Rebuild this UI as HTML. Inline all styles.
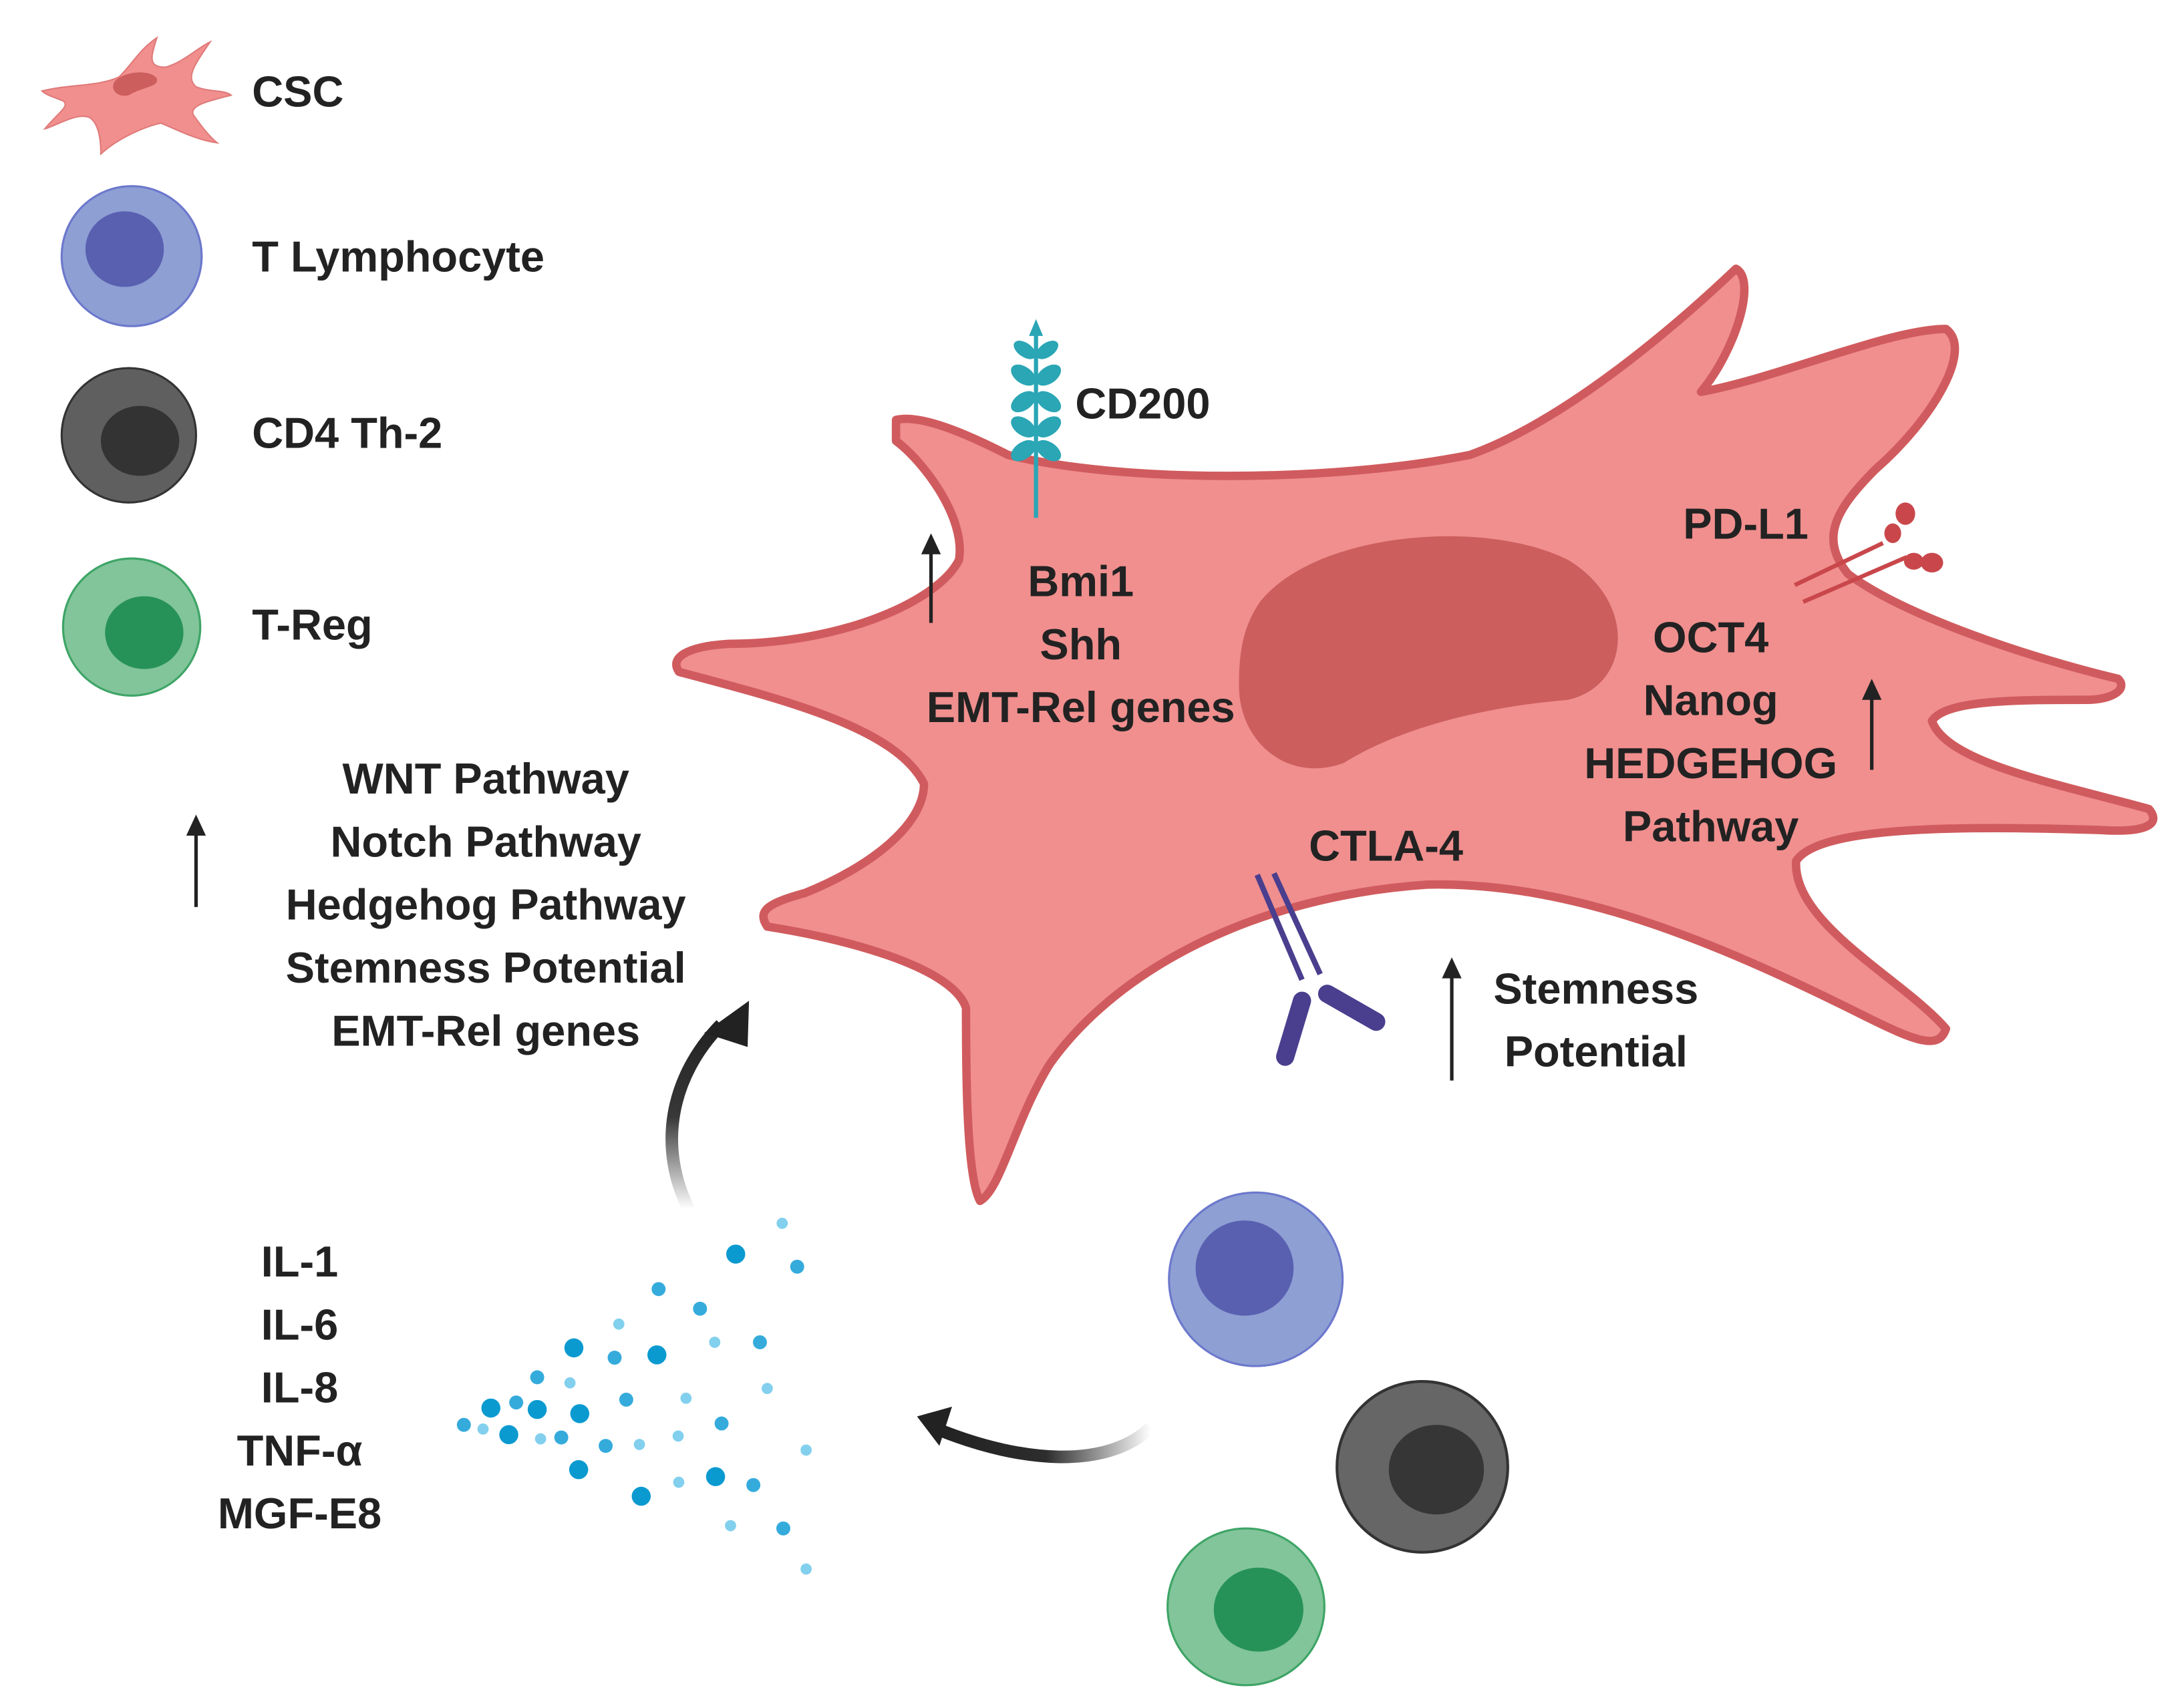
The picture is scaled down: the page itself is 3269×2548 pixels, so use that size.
<!DOCTYPE html>
<html><head><meta charset="utf-8"><style>
html,body{margin:0;padding:0;background:#fff;}
svg{display:block;}
text{font-family:"Liberation Sans",sans-serif;font-weight:bold;fill:#222;font-size:31px;}
</style></head><body>
<svg width="3269" height="2548" viewBox="0 0 1560 1216" xmlns="http://www.w3.org/2000/svg">
<defs>
<linearGradient id="gu" x1="0" y1="1" x2="0" y2="0"><stop offset="0" stop-color="#222" stop-opacity="0"/><stop offset="0.5" stop-color="#222" stop-opacity="0.9"/><stop offset="1" stop-color="#222"/></linearGradient>
<linearGradient id="gl" x1="1" y1="0" x2="0" y2="0"><stop offset="0" stop-color="#222" stop-opacity="0"/><stop offset="0.5" stop-color="#222" stop-opacity="0.95"/><stop offset="1" stop-color="#222"/></linearGradient>
</defs>

<!-- Legend -->
<path d="M30,65 C50,60 70,62 85,55 C95,45 100,35 112,27 C108,40 105,48 118,48 C130,45 140,35 150,30 C140,45 132,55 140,62 C150,66 160,64 165,68 C150,72 135,75 138,82 C145,92 150,98 155,102 C140,100 125,92 115,88 C105,90 85,98 72,110 C72,98 70,88 64,84 C55,80 40,90 32,92 C42,80 50,76 45,72 C40,70 33,68 30,65 Z" fill="#f08f8e" stroke="#e07a7a" stroke-width="1"/>
<path d="M82,58 C90,50 108,50 112,56 C114,62 102,62 92,68 C84,70 78,64 82,58 Z" fill="#cd5e5e"/>
<text x="180" y="76">CSC</text>

<circle cx="94" cy="183" r="50" fill="#8e9fd4" stroke="#6c78cc" stroke-width="1.5"/>
<ellipse cx="89" cy="178" rx="28" ry="27" fill="#5960b0"/>
<text x="180" y="194">T Lymphocyte</text>

<circle cx="92" cy="311" r="48" fill="#5f5f5f" stroke="#333" stroke-width="1.5"/>
<ellipse cx="100" cy="315" rx="28" ry="25" fill="#333"/>
<text x="180" y="320">CD4 Th-2</text>

<circle cx="94" cy="448" r="49" fill="#82c59a" stroke="#3ea466" stroke-width="1.5"/>
<ellipse cx="103" cy="452" rx="28" ry="26" fill="#279257"/>
<text x="180" y="457">T-Reg</text>

<!-- Main cell -->
<path d="M640,300 C660,295 700,315 720,325 C800,345 950,345 1050,325 C1120,300 1200,230 1240,192 C1255,200 1240,250 1215,280 C1270,270 1350,235 1390,235 C1410,250 1380,300 1340,335 C1310,365 1300,385 1320,410 C1360,440 1450,470 1513,485 C1520,492 1510,500 1490,500 C1440,500 1390,500 1380,515 C1390,545 1470,560 1535,578 C1545,590 1530,595 1500,593 C1400,590 1300,590 1283,615 C1280,660 1360,700 1390,735 C1385,750 1370,745 1330,725 C1220,670 1120,630 1020,632 C900,640 800,690 750,760 C725,800 715,850 700,858 C690,840 690,760 690,720 C680,690 600,670 548,662 C540,650 550,645 575,638 C620,620 660,590 660,560 C640,520 560,500 485,480 C478,470 490,462 520,460 C600,460 670,430 685,400 C690,370 660,330 640,315 Z" fill="#f08f8e" stroke="#d05b5e" stroke-width="6" stroke-linejoin="round"/>
<path d="M900,430 C940,380 1060,370 1120,400 C1170,430 1165,490 1120,500 C1060,505 1000,520 960,545 C920,560 885,530 885,490 C885,460 890,445 900,430 Z" fill="#cc5e5e"/>

<!-- CD200 -->
<line x1="740" y1="232" x2="740" y2="370" stroke="#2aa6b5" stroke-width="3"/>
<g fill="#2aa6b5">
<polygon points="740,228 735,240 745,240"/>
<ellipse cx="732" cy="250" rx="9" ry="5" transform="rotate(35 732 250)"/><ellipse cx="748" cy="250" rx="9" ry="5" transform="rotate(-35 748 250)"/>
<ellipse cx="731" cy="268" rx="10" ry="6" transform="rotate(35 731 268)"/><ellipse cx="749" cy="268" rx="10" ry="6" transform="rotate(-35 749 268)"/>
<ellipse cx="731" cy="287" rx="10" ry="6" transform="rotate(-35 731 287)"/><ellipse cx="749" cy="287" rx="10" ry="6" transform="rotate(35 749 287)"/>
<ellipse cx="731" cy="305" rx="10" ry="6" transform="rotate(35 731 305)"/><ellipse cx="749" cy="305" rx="10" ry="6" transform="rotate(-35 749 305)"/>
<ellipse cx="731" cy="322" rx="10" ry="6" transform="rotate(-35 731 322)"/><ellipse cx="749" cy="322" rx="10" ry="6" transform="rotate(35 749 322)"/>
</g>
<text x="768" y="299">CD200</text>

<!-- PD-L1 -->
<g stroke="#c9474b" stroke-width="3"><line x1="1282" y1="418" x2="1345" y2="388"/><line x1="1288" y1="430" x2="1362" y2="398"/></g>
<g fill="#c9474b"><ellipse cx="1352" cy="381" rx="6" ry="7"/><ellipse cx="1361" cy="367" rx="7" ry="8"/><ellipse cx="1367" cy="401" rx="7" ry="6"/><ellipse cx="1380" cy="402" rx="8" ry="7"/></g>
<text x="1247" y="385" text-anchor="middle">PD-L1</text>

<!-- CTLA-4 -->
<g stroke="#4a3e8e" stroke-width="4" fill="none"><path d="M898,625 L930,700"/><path d="M910,624 L943,696"/></g>
<g stroke="#4a3e8e" stroke-width="13" stroke-linecap="round"><line x1="930" y1="715" x2="918" y2="755"/><line x1="948" y1="710" x2="983" y2="730"/></g>
<text x="990" y="615" text-anchor="middle">CTLA-4</text>

<!-- texts in cell -->
<g text-anchor="middle">
<text x="772" y="426">Bmi1</text><text x="772" y="471">Shh</text><text x="772" y="516">EMT-Rel genes</text>
<text x="1222" y="466">OCT4</text><text x="1222" y="511">Nanog</text><text x="1222" y="556">HEDGEHOG</text><text x="1222" y="601">Pathway</text>
<text x="347" y="567">WNT Pathway</text><text x="347" y="612">Notch Pathway</text><text x="347" y="657">Hedgehog Pathway</text><text x="347" y="702">Stemness Potential</text><text x="347" y="747">EMT-Rel genes</text>
<text x="1140" y="717">Stemness</text><text x="1140" y="762">Potential</text>
<text x="214" y="912">IL-1</text><text x="214" y="957">IL-6</text><text x="214" y="1002">IL-8</text><text x="214" y="1047">TNF-α</text><text x="214" y="1092">MGF-E8</text>
</g>

<!-- straight arrows -->
<g stroke="#222" stroke-width="2.5"><line x1="665" y1="445" x2="665" y2="392"/><line x1="140" y1="648" x2="140" y2="592"/><line x1="1337" y1="550" x2="1337" y2="495"/><line x1="1037" y1="772" x2="1037" y2="695"/></g>
<g fill="#222"><polygon points="665,381 658,396 672,396"/><polygon points="140,582 133,597 147,597"/><polygon points="1337,485 1330,500 1344,500"/><polygon points="1037,684 1030,699 1044,699"/></g>

<!-- curved arrows -->
<path d="M492,864 C470,820 478,770 515,732" stroke="url(#gu)" stroke-width="9" fill="none"/>
<polygon points="535,715 534,748 503,738" fill="#222"/>
<path d="M822,1020 C790,1050 730,1045 672,1022" stroke="url(#gl)" stroke-width="9" fill="none"/>
<polygon points="655,1012 680,1005 671,1033" fill="#222"/>

<!-- dots -->
<g fill="#0b9ad0">
<circle cx="525.5" cy="896" r="6.8"/><circle cx="409.9" cy="963" r="6.8"/><circle cx="469.2" cy="968" r="6.8"/><circle cx="350.6" cy="1006" r="6.8"/><circle cx="383.7" cy="1007" r="6.8"/><circle cx="414.1" cy="1010" r="6.8"/><circle cx="363.4" cy="1025" r="6.8"/><circle cx="413.3" cy="1050" r="6.8"/><circle cx="511.1" cy="1055" r="6.8"/><circle cx="458" cy="1069" r="6.8"/>
</g>
<g fill="#35abdc">
<circle cx="569.4" cy="905" r="5"/><circle cx="470.4" cy="921" r="5"/><circle cx="500" cy="935" r="5"/><circle cx="542.8" cy="959" r="5"/><circle cx="439" cy="970" r="5"/><circle cx="383.7" cy="984" r="5"/><circle cx="447.3" cy="1000" r="5"/><circle cx="368.7" cy="1002" r="5"/><circle cx="515.4" cy="1017" r="5"/><circle cx="331.3" cy="1018" r="5"/><circle cx="400.9" cy="1027" r="5"/><circle cx="432.6" cy="1033" r="5"/><circle cx="538.1" cy="1061" r="5"/><circle cx="559.5" cy="1092" r="5"/>
</g>
<g fill="#82d0ee">
<circle cx="558.7" cy="874" r="4"/><circle cx="442" cy="946" r="4"/><circle cx="510.5" cy="959" r="4"/><circle cx="407.1" cy="988" r="4"/><circle cx="548" cy="992" r="4"/><circle cx="490" cy="999" r="4"/><circle cx="345" cy="1021" r="4"/><circle cx="386.1" cy="1028" r="4"/><circle cx="456.7" cy="1032" r="4"/><circle cx="484.4" cy="1026" r="4"/><circle cx="575.8" cy="1036" r="4"/><circle cx="484.8" cy="1059" r="4"/><circle cx="521.8" cy="1090" r="4"/><circle cx="575.8" cy="1121" r="4"/>
</g>

<!-- bottom cells -->
<circle cx="897" cy="914" r="62" fill="#8e9fd4" stroke="#6c78cc" stroke-width="1.5"/>
<ellipse cx="889" cy="906" rx="35" ry="34" fill="#5960b0"/>
<circle cx="1016" cy="1048" r="61" fill="#666" stroke="#333" stroke-width="2"/>
<ellipse cx="1026" cy="1050" rx="34" ry="32" fill="#363636"/>
<circle cx="890" cy="1148" r="56" fill="#82c59a" stroke="#3ea466" stroke-width="1.5"/>
<ellipse cx="899" cy="1150" rx="32" ry="30" fill="#279257"/>
</svg>
</body></html>
